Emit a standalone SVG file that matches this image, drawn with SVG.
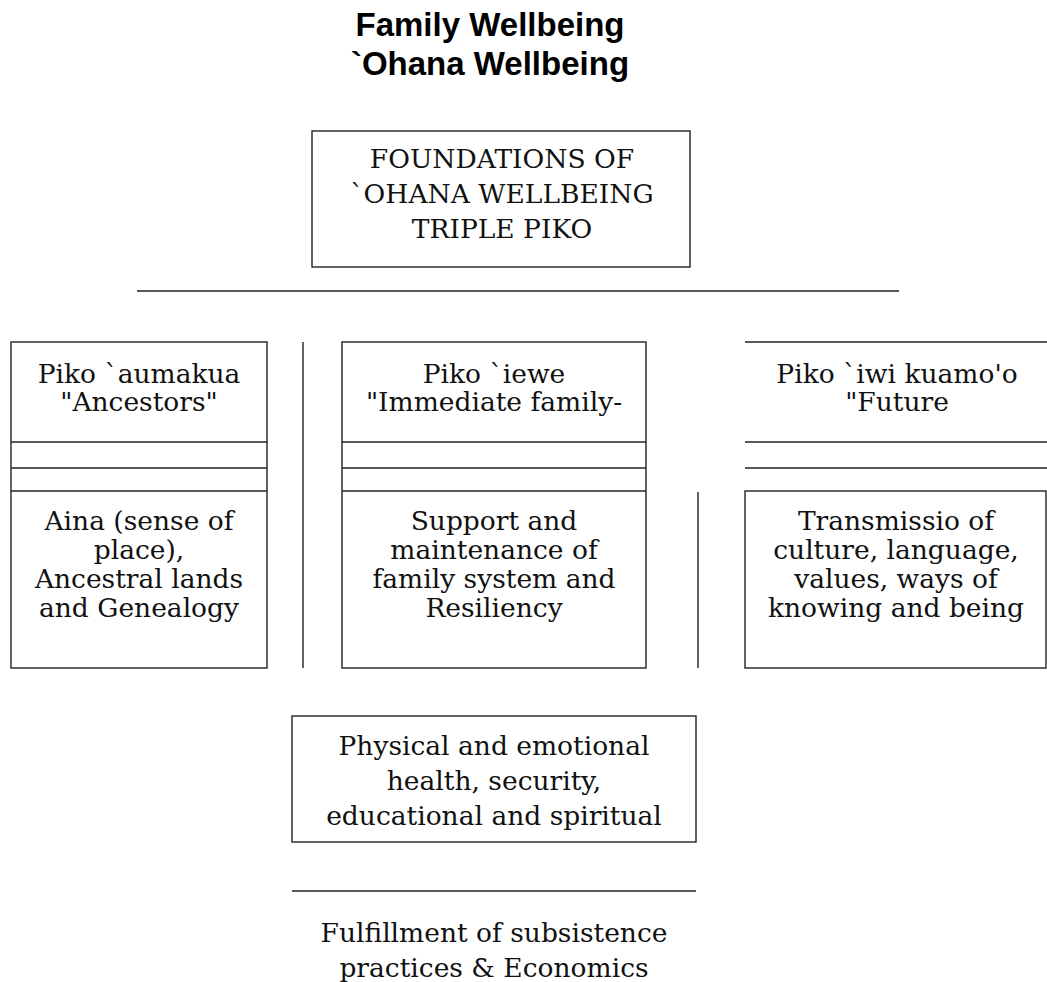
<svg xmlns="http://www.w3.org/2000/svg" width="1047" height="982" viewBox="0 0 1047 982">
<style>
.t{font-family:"Liberation Sans",Arial,sans-serif;font-weight:bold;font-size:33px;fill:#000;text-anchor:middle}
.s{font-family:"DejaVu Serif","Liberation Serif",serif;font-size:26.5px;fill:#111;text-anchor:middle}
.b{fill:none;stroke:#222;stroke-width:1.4}
.l{stroke:#222;stroke-width:1.4}
</style>
<rect width="1047" height="982" fill="#fff"/>
<g id="title">
<text class="t" x="490" y="36">Family Wellbeing</text>
<text class="t" x="490" y="75">`Ohana Wellbeing</text>
</g>
<g id="foundations">
<rect class="b" x="312" y="131" width="378" height="136"/>
<text class="s" x="502" y="168">FOUNDATIONS OF</text>
<text class="s" x="502" y="203">`OHANA WELLBEING</text>
<text class="s" x="502" y="238">TRIPLE PIKO</text>
</g>
<g id="connectors">
<line class="l" x1="137" y1="291" x2="899" y2="291"/>
<line class="l" x1="303" y1="342" x2="303" y2="668"/>
<line class="l" x1="698" y1="492" x2="698" y2="668"/>
<line class="l" x1="292" y1="891" x2="696" y2="891"/>
</g>
<g id="piko-aumakua">
<rect class="b" x="11" y="342" width="256" height="326"/>
<line class="l" x1="11" y1="442" x2="267" y2="442"/>
<line class="l" x1="11" y1="468" x2="267" y2="468"/>
<line class="l" x1="11" y1="491" x2="267" y2="491"/>
<text class="s" x="139" y="383">Piko `aumakua</text>
<text class="s" x="139" y="411">"Ancestors"</text>
<text class="s" x="139" y="530">Aina (sense of</text>
<text class="s" x="139" y="559">place),</text>
<text class="s" x="139" y="588">Ancestral lands</text>
<text class="s" x="139" y="617">and Genealogy</text>
</g>
<g id="piko-iewe">
<rect class="b" x="342" y="342" width="304" height="326"/>
<line class="l" x1="342" y1="442" x2="646" y2="442"/>
<line class="l" x1="342" y1="468" x2="646" y2="468"/>
<line class="l" x1="342" y1="491" x2="646" y2="491"/>
<text class="s" x="494" y="383">Piko `iewe</text>
<text class="s" x="494" y="411">"Immediate family-</text>
<text class="s" x="494" y="530">Support and</text>
<text class="s" x="494" y="559">maintenance of</text>
<text class="s" x="494" y="588">family system and</text>
<text class="s" x="494" y="617">Resiliency</text>
</g>
<g id="piko-iwi">
<line class="l" x1="745" y1="342" x2="1047" y2="342"/>
<line class="l" x1="745" y1="442" x2="1047" y2="442"/>
<line class="l" x1="745" y1="468" x2="1047" y2="468"/>
<rect class="b" x="745" y="491" width="301" height="177"/>
<text class="s" x="897" y="383">Piko `iwi kuamo'o</text>
<text class="s" x="897" y="411">"Future</text>
<text class="s" x="896" y="530">Transmissio of</text>
<text class="s" x="896" y="559">culture, language,</text>
<text class="s" x="896" y="588">values, ways of</text>
<text class="s" x="896" y="617">knowing and being</text>
</g>
<g id="physical">
<rect class="b" x="292" y="716" width="404" height="126"/>
<text class="s" x="494" y="755">Physical and emotional</text>
<text class="s" x="494" y="790">health, security,</text>
<text class="s" x="494" y="825">educational and spiritual</text>
</g>
<g id="fulfillment">
<text class="s" x="494" y="942">Fulfillment of subsistence</text>
<text class="s" x="494" y="977">practices &amp; Economics</text>
</g>
</svg>
